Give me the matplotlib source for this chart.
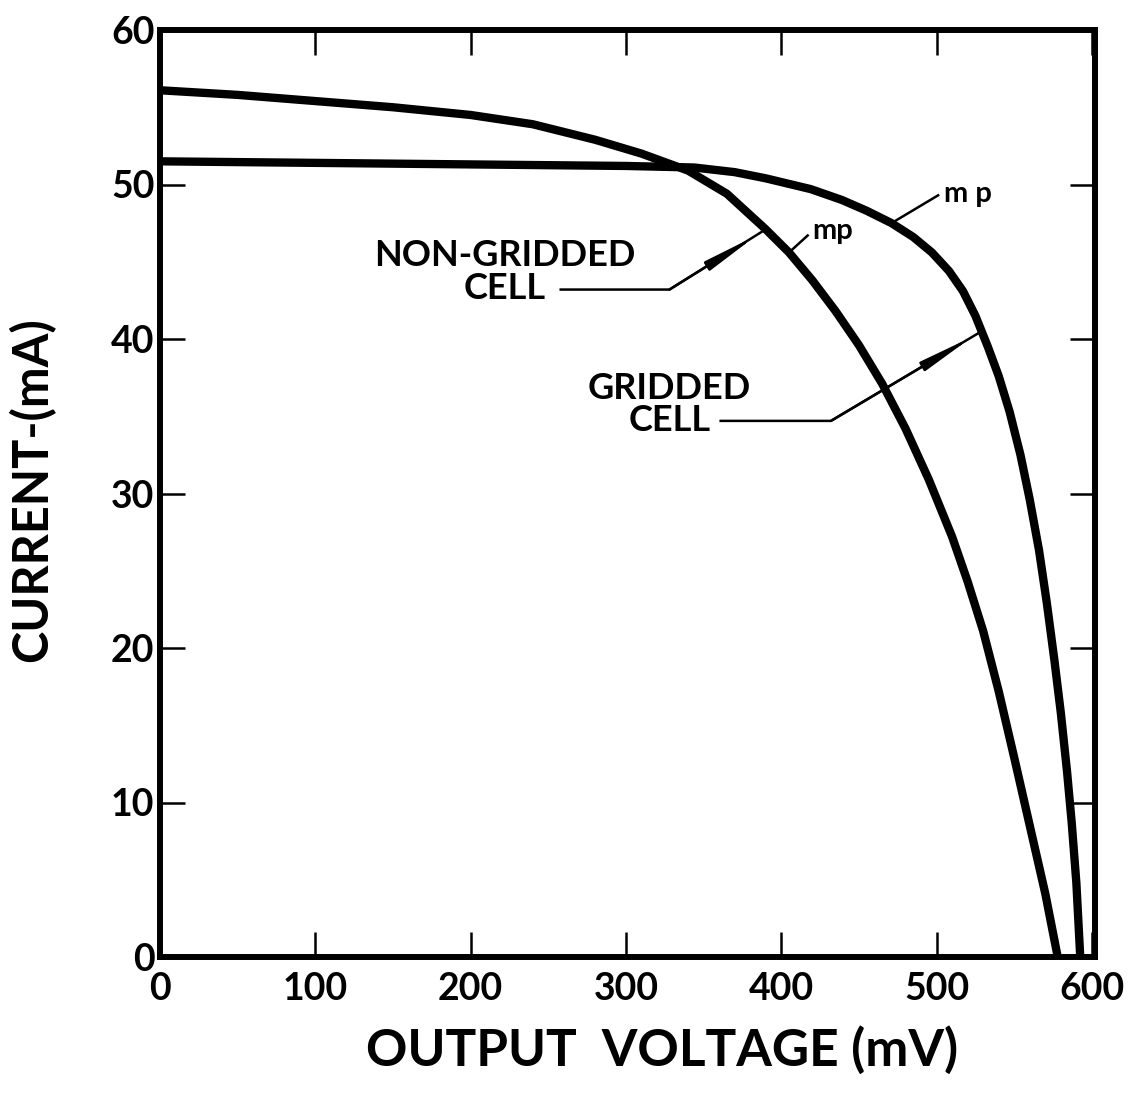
import matplotlib
matplotlib.use("Agg")
import matplotlib.pyplot as plt

plt.rcParams['font.family'] = ['Lato', 'DejaVu Sans']
plt.rcParams['font.weight'] = 'bold'

# I-V curves (mV, mA)
v_nongrid = [0, 50, 100, 150, 200, 240, 280, 310, 340, 365, 390, 405, 420, 435,
             450, 465, 480, 495, 510, 520, 530, 540, 550, 560, 570, 578]
i_nongrid = [56.1, 55.8, 55.4, 55.0, 54.5, 53.9, 52.9, 52.0, 50.9, 49.4, 47.1, 45.6,
             43.8, 41.8, 39.6, 37.1, 34.2, 30.9, 27.2, 24.3, 21.1, 17.2, 12.9, 8.5, 4.1, 0.0]

v_grid = [0, 100, 200, 300, 344, 370, 390, 419, 439, 455, 471, 485, 497, 508, 517,
          525, 533, 540, 547, 554, 560, 566, 571, 576, 580, 584, 587, 590, 592.5]
i_grid = [51.5, 51.4, 51.3, 51.2, 51.1, 50.8, 50.4, 49.7, 49.0, 48.3, 47.5, 46.6,
          45.6, 44.4, 43.1, 41.5, 39.5, 37.6, 35.3, 32.5, 29.6, 26.3, 22.9, 19.1,
          15.8, 12.0, 8.7, 4.8, 0.0]

# maximum power points
mp_nongrid = (405, 45.6)
mp_grid = (471, 47.5)

x_ticks = [0, 100, 200, 300, 400, 500, 600]
y_ticks = [0, 10, 20, 30, 40, 50, 60]

fig = plt.figure(figsize=(11.31, 10.95), dpi=100)
ax = fig.add_axes([160 / 1131, 138 / 1095, 935 / 1131, 927 / 1095])

ax.plot(v_nongrid, i_nongrid, color='black', lw=6, solid_capstyle='butt',
        solid_joinstyle='round')
ax.plot(v_grid, i_grid, color='black', lw=6, solid_capstyle='butt',
        solid_joinstyle='round')

ax.set_xlim(0, 602)
ax.set_ylim(0, 60)
ax.set_xticks(x_ticks)
ax.set_yticks(y_ticks)
ax.tick_params(direction='in', top=True, right=True, length=18, width=1.8,
               labelsize=27)
ax.tick_params(axis='x', pad=11)
ax.tick_params(axis='y', pad=4)
for s in ax.spines.values():
    s.set_linewidth(4.3)

head = "-|>,head_length=3.2,head_width=0.3"

# labels with elbow leaders; the arrowhead sits a little short of the curve
for txt, y in [("NON-GRIDDED", 45.4), ("CELL", 43.3)]:
    ax.text(222, y, txt, ha='center', va='center', fontsize=26)
ax.plot([258, 328, 390], [43.2, 43.2, 47.1], color='black', lw=1.8)
ax.annotate("", xy=(384, 46.7), xytext=(328, 43.2),
            arrowprops=dict(arrowstyle=head, color='black', lw=1.8,
                            shrinkA=0, shrinkB=0))

for txt, y in [("GRIDDED", 36.8), ("CELL", 34.7)]:
    ax.text(328, y, txt, ha='center', va='center', fontsize=26)
ax.plot([361, 432, 529], [34.7, 34.7, 40.5], color='black', lw=1.8)
ax.annotate("", xy=(523, 40.14), xytext=(432, 34.7),
            arrowprops=dict(arrowstyle=head, color='black', lw=1.8,
                            shrinkA=0, shrinkB=0))

# mp markers
ax.plot([mp_nongrid[0], 417], [mp_nongrid[1], 46.7], color='black', lw=1.8)
ax.text(420, 47.0, "mp", ha='left', va='center', fontsize=21)
ax.plot([mp_grid[0], 501], [mp_grid[1], 49.3], color='black', lw=1.8)
ax.text(505, 49.4, "m p", ha='left', va='center', fontsize=21)

fig.text(662 / 1131, 1 - 1050 / 1095, "OUTPUT  VOLTAGE (mV)", ha='center',
         va='center', fontsize=37)
fig.text(32 / 1131, 1 - 490 / 1095, "CURRENT-(mA)", ha='center', va='center',
         rotation=90, fontsize=35)

fig.savefig("out.png", dpi=100)
